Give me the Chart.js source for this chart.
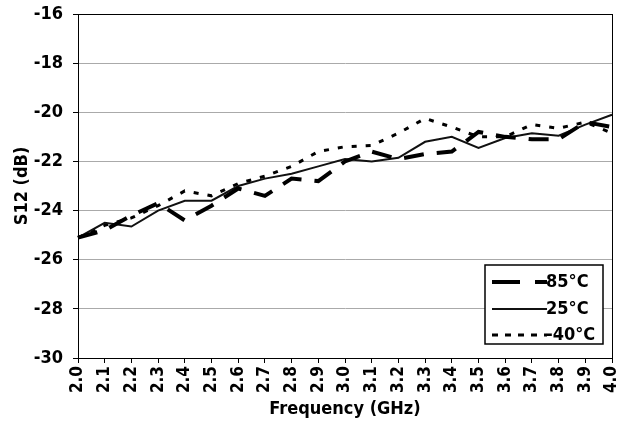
<!DOCTYPE html>
<html>
<head>
<meta charset="utf-8">
<script src="https://cdn.jsdelivr.net/npm/chart.js@4.4.1/dist/chart.umd.min.js"></script>
<style>
  html, body { margin: 0; padding: 0; background: #fff; }
  #wrap { width: 620px; height: 424px; }
</style>
</head>
<body>
<div id="wrap"><canvas id="s12Chart" width="620" height="424"></canvas></div>
<script>
const freqLabels = ['2.0','2.1','2.2','2.3','2.4','2.5','2.6','2.7','2.8','2.9','3.0',
                    '3.1','3.2','3.3','3.4','3.5','3.6','3.7','3.8','3.9','4.0'];
const s12Hot = [-25.1,-24.8,-24.2,-23.7,-24.4,-23.8,-23.1,-23.4,-22.7,-22.8,-22.0,
                -21.6,-21.9,-21.7,-21.6,-20.8,-21.0,-21.1,-21.1,-20.4,-20.6];
const s12Room = [-25.1,-24.5,-24.65,-24.0,-23.6,-23.6,-23.0,-22.7,-22.5,-22.2,-21.9,
                 -22.0,-21.85,-21.2,-21.0,-21.45,-21.05,-20.85,-20.95,-20.5,-20.1];
const s12Cold = [-25.1,-24.6,-24.3,-23.8,-23.2,-23.4,-22.9,-22.6,-22.2,-21.6,-21.4,
                 -21.35,-20.85,-20.25,-20.6,-21.0,-21.0,-20.5,-20.65,-20.4,-20.85];
const seriesNames = ['85°C', '25°C', '-40°C'];

const font = "'Liberation Sans Narrow', 'DejaVu Sans Condensed', sans-serif";

// legend box + plot frame
const boxPlugin = {
    id: 'boxPlugin',
    afterDraw(chart) {
        const c = chart.ctx;
        const a = chart.chartArea;
        c.save();
        c.strokeStyle = '#000';
        c.lineWidth = 1;
        c.strokeRect(a.left + 0.5, a.top + 0.5, a.right - a.left, a.bottom - a.top);

        const bx = 485, by = 265, bw = 118, bh = 79;
        c.fillStyle = '#fff';
        c.fillRect(bx, by, bw, bh);
        c.lineWidth = 1.5;
        c.strokeRect(bx, by, bw, bh);
        c.font = 'bold 18px ' + font;
        c.textBaseline = 'middle';
        c.fillStyle = '#000';
        const rows = [282, 309, 335];
        chart.data.datasets.forEach((ds, i) => {
            c.beginPath();
            c.strokeStyle = ds.borderColor;
            c.lineWidth = ds.borderWidth;
            c.setLineDash(i === 0 ? [28, 15] : (i === 2 ? [6, 7] : []));
            c.moveTo(492, rows[i]);
            c.lineTo(547, rows[i]);
            c.stroke();
            c.setLineDash([]);
            c.fillText(ds.label, 546, rows[i]);
        });
        c.restore();
    }
};

const data = {
    labels: freqLabels,
    datasets: [{
        label: seriesNames[0],
        data: s12Hot,
        borderColor: '#000',
        borderWidth: 4,
        borderDash: [20, 13],
        pointRadius: 0,
        fill: false,
        tension: 0
    }, {
        label: seriesNames[1],
        data: s12Room,
        borderColor: '#111',
        borderWidth: 2,
        pointRadius: 0,
        fill: false,
        tension: 0
    }, {
        label: seriesNames[2],
        data: s12Cold,
        borderColor: '#000',
        borderWidth: 3,
        borderDash: [5, 9],
        pointRadius: 0,
        fill: false,
        tension: 0
    }]
};

const config = {
    type: 'line',
    data: data,
    options: {
        responsive: false,
        animation: false,
        layout: { padding: { top: 14, right: 8, left: 0, bottom: 0 } },
        plugins: {
            legend: { display: false },
            tooltip: { enabled: false }
        },
        scales: {
            x: {
                type: 'category',
                offset: false,
                grid: { display: true, drawOnChartArea: false, tickLength: 5, tickColor: '#000' },
                border: { color: '#000' },
                ticks: {
                    maxRotation: 90, minRotation: 90, autoSkip: false,
                    color: '#000', padding: 3,
                    font: { family: font, size: 17, weight: 'bold' }
                },
                title: {
                    display: true, text: 'Frequency (GHz)', color: '#000', padding: { top: 2 },
                    font: { family: font, size: 18, weight: 'bold' }
                },
                afterFit(scale) {
                    scale.height = 66;
                    scale.paddingLeft = 0;
                    scale.paddingRight = 0;
                }
            },
            y: {
                min: -30, max: -16,
                ticks: {
                    stepSize: 2, color: '#000', padding: 10,
                    font: { family: font, size: 18, weight: 'bold' }
                },
                grid: { color: '#aaa', tickColor: '#000', tickLength: 5, lineWidth: 1 },
                border: { color: '#000' },
                title: {
                    display: true, text: 'S12 (dB)', color: '#000', padding: { top: 12, bottom: 0 },
                    font: { family: font, size: 18, weight: 'bold' }
                },
                afterFit(scale) {
                    scale.width = 78;
                    scale.paddingTop = 0;
                    scale.paddingBottom = 0;
                }
            }
        }
    },
    plugins: [boxPlugin]
};

const ctx = document.getElementById('s12Chart');
const s12Chart = new Chart(ctx, config);
</script>
</body>
</html>
